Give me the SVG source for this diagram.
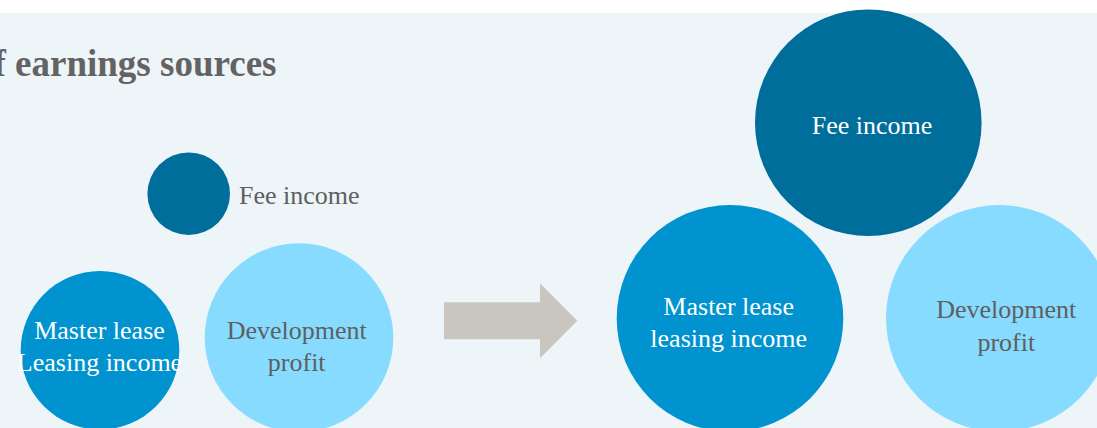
<svg xmlns="http://www.w3.org/2000/svg" width="1097" height="428" viewBox="0 0 1097 428">
  <style>
    .t { font-family: "Liberation Serif", "Times New Roman", serif; font-size: 26px; }
    .w { fill: #FFFFFF; }
    .g { fill: #5F5F5F; }
    .c1 { fill: #006E9B; }
    .c2 { fill: #0093CF; }
    .c3 { fill: #87DBFF; }
  </style>
  <rect x="0" y="0" width="1097" height="428" fill="#FFFFFF"/>
  <rect x="0" y="13" width="1097" height="415" fill="#EDF5F9"/>
  <text x="-6.5" y="76" font-family="Liberation Serif, Times New Roman, serif" font-size="37" font-weight="bold" fill="#636363">f earnings sources</text>

  <g id="left-fee">
    <circle class="c1" cx="188.7" cy="193.7" r="41.3"/>
    <text class="t g" x="239" y="204.3">Fee income</text>
  </g>
  <g id="left-master">
    <circle class="c2" cx="100" cy="350.3" r="79.3"/>
    <text class="t w" x="99.5" y="339.3" text-anchor="middle">Master lease</text>
    <text class="t w" x="99.5" y="371" text-anchor="middle">Leasing income</text>
  </g>
  <g id="left-dev">
    <circle class="c3" cx="299" cy="337.6" r="94.3"/>
    <text class="t g" x="296.7" y="339.3" text-anchor="middle">Development</text>
    <text class="t g" x="296.7" y="371" text-anchor="middle">profit</text>
  </g>

  <g id="connectors">
    <polygon points="444,302.3 540,302.3 540,283.3 577.3,320.8 540,358.3 540,339.3 444,339.3" fill="#C9C6BF"/>
  </g>

  <g id="right-fee">
    <circle class="c1" cx="868.3" cy="122.7" r="113.3"/>
    <text class="t w" x="872" y="134.3" text-anchor="middle">Fee income</text>
  </g>
  <g id="right-master">
    <circle class="c2" cx="730" cy="318.3" r="113.3"/>
    <text class="t w" x="728.7" y="315" text-anchor="middle">Master lease</text>
    <text class="t w" x="728.7" y="346.7" text-anchor="middle">leasing income</text>
  </g>
  <g id="right-dev">
    <circle class="c3" cx="999.3" cy="318.3" r="113.3"/>
    <text class="t g" x="1006.3" y="318.3" text-anchor="middle">Development</text>
    <text class="t g" x="1006.3" y="350.7" text-anchor="middle">profit</text>
  </g>
</svg>
